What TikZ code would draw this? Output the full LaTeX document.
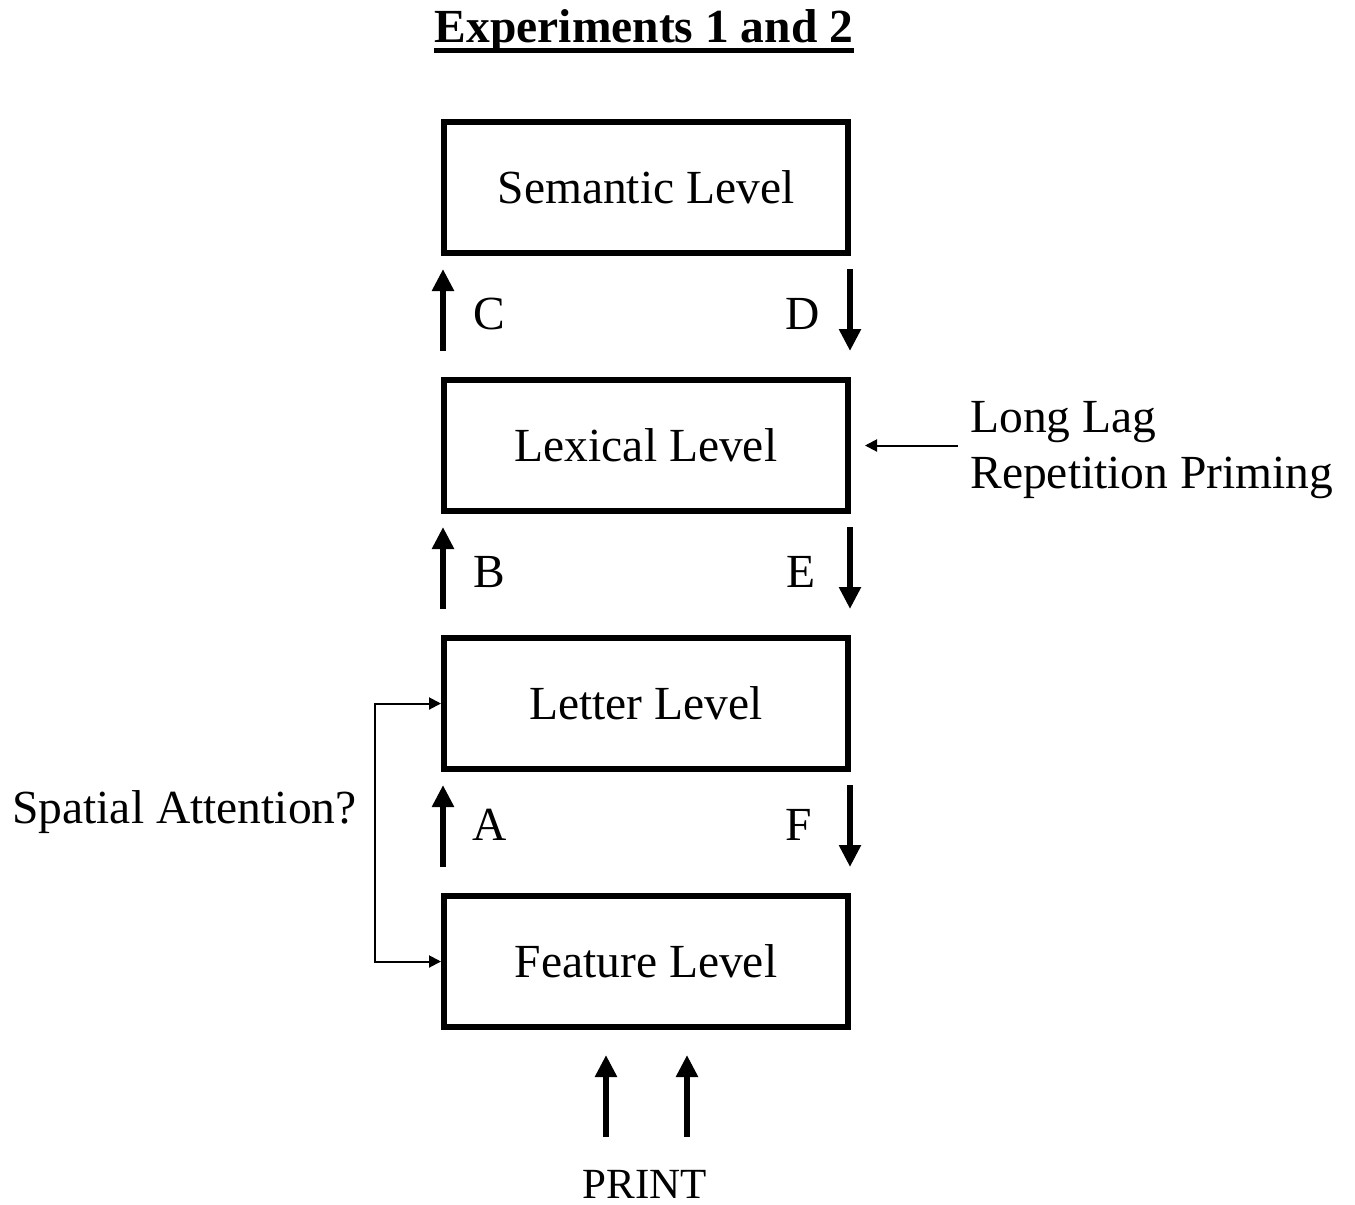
\documentclass[tikz,border=0pt]{standalone}
\usepackage{fontspec}
\setmainfont{Liberation Serif}
\usetikzlibrary{arrows.meta,calc}
\begin{document}
\begin{tikzpicture}[x=0.5pt,y=-0.5pt,
  level/.style={draw, line width=3pt, minimum width=202pt, minimum height=65.5pt,
    inner sep=0pt, font=\fontsize{23.75}{28}\selectfont},
  lbl/.style={font=\fontsize{23.75}{28}\selectfont, inner sep=0pt},
  flow/.style={line width=3pt, -{Triangle[length=11pt,width=10.5pt]}},
  cue/.style={line width=1pt, -{Triangle[length=6pt,width=6pt]}}]
\useasboundingbox (0,0) rectangle (1355,1205);

% title
\node[lbl, anchor=base, font=\fontsize{23.75}{28}\selectfont\bfseries] (title) at (644,42) {Experiments 1 and 2};
\draw[line width=2.5pt] ($(title.base west)+(0,8.5)$) -- ($(title.base east)+(0,8.5)$);

% processing levels
\node[level] (sem) at (646,187.5) {\raisebox{-1.5pt}{Semantic Level}};
\node[level] (lex) at (646,445.5) {\raisebox{-1.5pt}{Lexical Level}};
\node[level] (let) at (646,703.5) {\raisebox{-1.5pt}{Letter Level}};
\node[level] (fea) at (646,961.5) {\raisebox{-1.5pt}{Feature Level}};

% bottom-up (left) and top-down (right) links between levels
\foreach \lo/\hi/\up/\dn in {lex/sem/C/D, let/lex/B/E, fea/let/A/F}{
  \coordinate (\up s) at ($(\lo.north west)+(2,-26)$);
  \coordinate (\up t) at ($(\hi.south west)+(2,13)$);
  \coordinate (\dn s) at ($(\hi.south east)+(-1,13)$);
  \coordinate (\dn t) at ($(\lo.north east)+(-1,-26)$);
  \draw[flow] (\up s) -- (\up t);
  \draw[flow] (\dn s) -- (\dn t);
}
\node[lbl] (lc) at (489,314) {C};
\node[lbl] (ld) at (803,314) {D};
\node[lbl] (lb) at (489,572) {B};
\node[lbl] (le) at (801,572) {E};
\node[lbl] (la) at (490,825) {A};
\node[lbl] (lf) at (799,825) {F};

% repetition priming input to the lexical level
\node[lbl, anchor=base west] (ll1) at (970,432) {Long Lag};
\node[lbl, anchor=base west] (ll2) at (970,488) {Repetition Priming};
\coordinate (llsrc) at ($(lex.east)+(107,0)$);
\draw[cue] (llsrc) -- ($(lex.east)+(14,0)$);

% spatial attention loop
\node[lbl, anchor=base east] (spa) at (357,823) {Spatial Attention?};
\draw[line width=1pt, {Triangle[length=6pt,width=6pt]}-{Triangle[length=6pt,width=6pt]}]
  (let.west) -- ++(-66,0) |- (fea.west);

% print input
\node[lbl, anchor=base, font=\fontsize{21.5}{25}\selectfont] (print) at (645,1198) {PRINT};
\coordinate (p1) at (606,1137);
\coordinate (p2) at (687,1137);
\draw[flow] (p1) -- (606,1055);
\draw[flow] (p2) -- (687,1055);
\end{tikzpicture}
\end{document}
